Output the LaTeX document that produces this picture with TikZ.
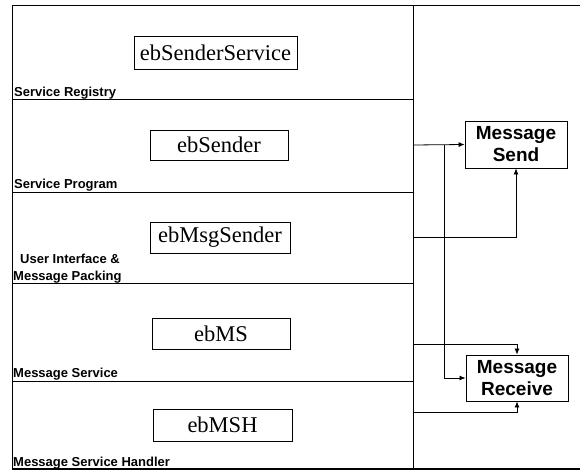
\documentclass[tikz,border=0pt]{standalone}
\usepackage{fontspec}
\setmainfont{Liberation Serif}
\setsansfont{Liberation Sans}
\usetikzlibrary{arrows.meta}
\tikzset{
  layerbox/.style={draw, line width=0.8pt, inner sep=0pt, font=\fontsize{22.5}{26}\selectfont},
  funcbox/.style={draw, line width=0.9pt, inner sep=0pt, align=center,
    font=\sffamily\bfseries\fontsize{19}{22}\selectfont},
  layerlabel/.style={anchor=base west, inner sep=0pt,
    font=\sffamily\bfseries\fontsize{13}{17}\selectfont},
  frame/.style={line width=0.9pt},
  link/.style={line width=0.8pt, -{Latex[length=6pt,width=5pt]}},
}
\begin{document}
\begin{tikzpicture}[x=1pt,y=-1pt]
\useasboundingbox (0,0) rectangle (580,471);

% outer frame and layer separators
\draw[frame] (12,469) -- (12,5) -- (580,5);
\draw[line width=1.8pt] (12,469) -- (580,469);
\draw[frame] (413,5) -- (413,469);
\foreach \y in {99,192,283,381} \draw[frame] (12,\y) -- (413,\y);

% layer components
\node[layerbox, minimum width=163, minimum height=33] (srv) at (215.5,52.5) {ebSenderService};
\node[layerbox, minimum width=138, minimum height=30] (snd) at (219,145) {ebSender};
\node[layerbox, minimum width=140, minimum height=31] (msg) at (220,237.5) {ebMsgSender};
\node[layerbox, minimum width=138, minimum height=31] (ms) at (221,333.5) {ebMS};
\node[layerbox, minimum width=139, minimum height=32] (msh) at (222.5,425) {ebMSH};

% layer names
\node[layerlabel] (l1) at (14,96) {Service Registry};
\node[layerlabel] (l2) at (14,188.5) {Service Program};
\node[layerlabel] (l3a) at (20,263) {User Interface \&};
\node[layerlabel] (l3b) at (13,280) {Message Packing};
\node[layerlabel] (l4) at (13,377.5) {Message Service};
\node[layerlabel] (l5) at (13,466) {Message Service Handler};

% functions
\node[funcbox, minimum width=102, minimum height=47] (send) at (516,144.5) {Message\\Send};
\node[funcbox, minimum width=102, minimum height=46] (recv) at (517,378) {Message\\Receive};

% taps on the layer divider
\coordinate (t1) at (413,145);
\coordinate (t2) at (413,237);
\coordinate (t3) at (413,344);
\coordinate (t4) at (413,412);
\coordinate (b1) at (444,145);

% connectors
\draw[link] (t1) -- (send.west);
\draw[link] (t2) -| (send.south);
\draw[link] (b1) |- (recv.west);
\draw[link] (t3) -| (recv.north);
\draw[link] (t4) -| (recv.south);
\end{tikzpicture}
\end{document}
